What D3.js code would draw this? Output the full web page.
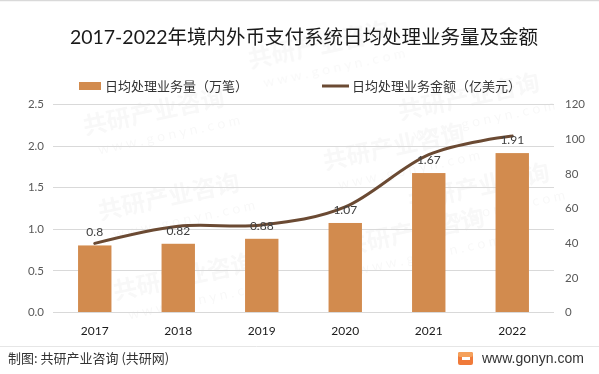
<!DOCTYPE html>
<html lang="zh">
<head>
<meta charset="UTF-8" />
<title>境内外币支付系统日均处理业务量及金额</title>
<script src="https://d3js.org/d3.v7.min.js"></script>
<style>
    body { margin: 0; background: #fff; }
    svg { display: block; font-family: Lato, "Noto Sans CJK SC", sans-serif; }
</style>
</head>
<body>
<svg id="chart" width="599" height="374"></svg>
<script>
    const years = ["2017", "2018", "2019", "2020", "2021", "2022"];
    const volume = [0.8, 0.82, 0.88, 1.07, 1.67, 1.91];       // 万笔
    const amount = [39.6, 49.5, 50.2, 60.6, 90.8, 101.5];     // 亿美元
    const leftTicks = [0, 0.5, 1.0, 1.5, 2.0, 2.5];
    const rightTicks = [0, 20, 40, 60, 80, 100, 120];
    const seriesNames = ["日均处理业务量（万笔）", "日均处理业务金额（亿美元）"];

    const barColor = "#d28b4e";
    const lineColor = "#6b4a33";

    const svg = d3.select("#chart");

    // top border
    svg.append("line")
        .attr("x1", 0).attr("x2", 599).attr("y1", 0.5).attr("y2", 0.5)
        .attr("stroke", "#d9d9d9").attr("stroke-width", 1.5);

    // faint watermark, kept inside the frame
    const wm = svg.append("g").attr("fill", "#000").attr("opacity", 0.03);
    const wmPos = [[85, 135], [100, 220], [115, 300], [250, 68], [325, 170], [345, 255], [400, 120], [410, 210]];
    wmPos.forEach(p => {
        const g = wm.append("g").attr("transform", `translate(${p[0]},${p[1]}) rotate(-12)`);
        g.append("text").attr("font-size", 24).attr("font-weight", "bold")
            .attr("font-family", "'Noto Sans CJK SC', sans-serif")
            .text("共研产业咨询");
        g.append("text").attr("x", 10).attr("y", 22).attr("font-size", 14)
            .attr("xml:space", "preserve").text("w w w . g o n y n . c o m");
    });

    // title
    svg.append("text")
        .attr("x", 304).attr("y", 44)
        .attr("text-anchor", "middle")
        .attr("font-size", 19.5)
        .attr("fill", "#1a1a1a")
        .text("2017-2022年境内外币支付系统日均处理业务量及金额");

    // legend
    const legend = svg.append("g").attr("font-size", 13).attr("fill", "#333");
    legend.append("rect").attr("x", 79).attr("y", 82).attr("width", 22).attr("height", 8).attr("fill", barColor);
    legend.append("text").attr("x", 105).attr("y", 91).text(seriesNames[0]);
    legend.append("line").attr("x1", 322).attr("x2", 349).attr("y1", 86).attr("y2", 86)
        .attr("stroke", lineColor).attr("stroke-width", 3);
    legend.append("text").attr("x", 352).attr("y", 91).text(seriesNames[1]);

    // scales
    const x = d3.scaleBand().domain(years).range([53, 554]).paddingInner(0.6).paddingOuter(0.3);
    const yL = d3.scaleLinear().domain([0, 2.5]).range([312, 104]);
    const yR = d3.scaleLinear().domain([0, 120]).range([312, 104]);

    // gridlines
    svg.append("g").selectAll("line").data(leftTicks).join("line")
        .attr("x1", 53).attr("x2", 554)
        .attr("y1", d => Math.round(yL(d)) + 0.5).attr("y2", d => Math.round(yL(d)) + 0.5)
        .attr("stroke", "#d9d9d9").attr("stroke-width", 1);

    // left axis
    const axL = svg.append("g").attr("transform", "translate(44,0)")
        .call(d3.axisLeft(yL).tickValues(leftTicks).tickFormat(d3.format(".1f")).tickSize(0).tickPadding(0));
    axL.select(".domain").remove();
    axL.selectAll("text").attr("font-size", 11.5).attr("fill", "#595959").attr("font-family", "Lato, sans-serif");

    // right axis
    const axR = svg.append("g").attr("transform", "translate(565,0)")
        .call(d3.axisRight(yR).tickValues(rightTicks).tickSize(0).tickPadding(0));
    axR.select(".domain").remove();
    axR.selectAll("text").attr("font-size", 11.5).attr("fill", "#595959").attr("font-family", "Lato, sans-serif");

    // bottom axis
    const axB = svg.append("g").attr("transform", "translate(0,312)")
        .call(d3.axisBottom(x).tickSize(0).tickPadding(14));
    axB.select(".domain").remove();
    axB.selectAll("text").attr("font-size", 12).attr("fill", "#1a1a1a").attr("font-family", "Lato, sans-serif");

    // bars
    svg.append("g").selectAll("rect").data(volume).join("rect")
        .attr("x", (d, i) => x(years[i]))
        .attr("y", d => yL(d))
        .attr("width", x.bandwidth())
        .attr("height", d => yL(0) - yL(d))
        .attr("fill", barColor);

    // line
    const line = d3.line()
        .x((d, i) => x(years[i]) + x.bandwidth() / 2)
        .y(d => yR(d))
        .curve(d3.curveCatmullRom.alpha(0));
    svg.append("path").datum(amount)
        .attr("d", line)
        .attr("fill", "none")
        .attr("stroke", lineColor)
        .attr("stroke-width", 3)
        .attr("stroke-linecap", "round");

    // bar labels
    svg.append("g").selectAll("text").data(volume).join("text")
        .attr("x", (d, i) => x(years[i]) + x.bandwidth() / 2)
        .attr("y", d => yL(d) - 9)
        .attr("text-anchor", "middle")
        .attr("font-size", 12)
        .attr("font-family", "Lato, sans-serif")
        .attr("fill", "#404040")
        .text(d => d);

    // footer
    svg.append("line")
        .attr("x1", 0).attr("x2", 599).attr("y1", 346.5).attr("y2", 346.5)
        .attr("stroke", "#e6e6e6").attr("stroke-width", 1);
    svg.append("text")
        .attr("x", 8).attr("y", 363)
        .attr("font-size", 13)
        .attr("fill", "#333")
        .attr("font-family", "'Noto Sans CJK SC', sans-serif")
        .text("制图: 共研产业咨询 (共研网)");
    const logo = svg.append("g").attr("transform", "translate(458,352)");
    logo.append("rect").attr("width", 15).attr("height", 13).attr("rx", 2).attr("fill", "#f07a3a");
    logo.append("rect").attr("x", 4).attr("y", 5).attr("width", 8).attr("height", 3).attr("fill", "#fff");
    logo.append("rect").attr("x", 0).attr("y", 0).attr("width", 15).attr("height", 5).attr("rx", 2).attr("fill", "#f5a15c");
    svg.append("text")
        .attr("x", 482).attr("y", 363)
        .attr("font-size", 14)
        .attr("fill", "#333")
        .attr("font-family", "'Liberation Sans', Arial, sans-serif")
        .text("www.gonyn.com");
</script>
</body>
</html>
